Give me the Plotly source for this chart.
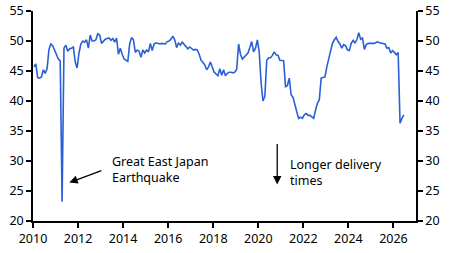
import plotly.graph_objects as go

# Monthly index values, Jan 2010 - Jun 2026
v2010 = [45.7, 46.2, 43.9, 43.8, 44.0, 45.2, 44.6, 45.4, 48.6, 49.5, 49.2, 48.5]
v2011 = [47.6, 47.0, 46.7, 23.2, 48.8, 49.3, 48.3, 48.7, 48.8, 49.0, 46.5, 45.5]
v2012 = [48.0, 49.5, 50.0, 49.8, 50.2, 48.8, 51.0, 50.0, 50.0, 50.2, 51.2, 51.0]
v2013 = [49.6, 50.0, 50.3, 50.4, 50.5, 50.1, 50.4, 49.8, 50.5, 47.8, 48.8, 47.8]
v2014 = [47.0, 46.8, 46.6, 49.5, 50.6, 50.2, 48.1, 48.5, 48.3, 47.3, 48.5, 48.0]
v2015 = [48.5, 48.2, 49.6, 48.4, 49.5, 49.7, 49.6, 49.5, 49.6, 49.6, 49.5, 49.9]
v2016 = [50.0, 50.3, 50.8, 50.2, 48.9, 49.7, 49.3, 49.8, 49.4, 49.0, 48.7, 49.0]
v2017 = [48.8, 48.5, 48.6, 48.5, 47.8, 46.8, 46.4, 46.0, 45.2, 45.7, 46.5, 45.6]
v2018 = [44.8, 44.5, 44.2, 45.4, 44.3, 45.2, 44.2, 44.6, 44.8, 44.8, 44.7, 44.8]
v2019 = [45.3, 49.5, 47.8, 47.0, 47.3, 47.6, 48.0, 48.9, 49.9, 48.2, 48.8, 50.2]
v2020 = [48.2, 43.0, 40.0, 40.8, 46.8, 47.2, 47.2, 47.6, 48.2, 47.7, 47.6, 46.8]
v2021 = [46.8, 46.7, 42.4, 42.6, 43.8, 41.0, 40.6, 39.6, 38.2, 37.1, 37.3, 37.1]
v2022 = [37.7, 37.9, 37.6, 37.6, 37.3, 37.1, 38.5, 39.6, 40.2, 43.8, 43.9, 44.0]
v2023 = [45.7, 47.1, 48.5, 49.6, 50.2, 50.6, 49.9, 49.5, 48.8, 49.4, 49.2, 48.5]
v2024 = [48.4, 49.6, 50.1, 49.7, 50.2, 51.4, 50.3, 50.5, 48.6, 49.4, 49.6, 49.6]
v2025 = [49.5, 49.6, 49.7, 49.9, 49.7, 49.6, 49.5, 49.5, 48.8, 48.9, 48.0, 48.4]
v2026 = [48.1, 47.7, 48.1, 36.3, 37.1, 37.7]

years = list(range(2010, 2027))
yearly = [v2010, v2011, v2012, v2013, v2014, v2015, v2016, v2017, v2018,
          v2019, v2020, v2021, v2022, v2023, v2024, v2025, v2026]

x_tick_vals = [2010, 2012, 2014, 2016, 2018, 2020, 2022, 2024, 2026]
y_tick_vals = [20, 25, 30, 35, 40, 45, 50, 55]

xs, ys = [], []
for yr, vals in zip(years, yearly):
    for m, v in enumerate(vals):
        xs.append(yr + (m + 0.5) / 12)
        ys.append(v)

FONT = "Noto Sans"
BLUE = "#2a5fd6"

fig = go.Figure()
fig.add_trace(go.Scatter(x=xs, y=ys, mode="lines",
                         line=dict(color=BLUE, width=1.6),
                         hoverinfo="skip", showlegend=False))
fig.add_trace(go.Scatter(x=xs, y=ys, mode="lines", yaxis="y2",
                         line=dict(color="rgba(0,0,0,0)", width=0),
                         hoverinfo="skip", showlegend=False))

axis_common = dict(showgrid=False, zeroline=False, showline=True,
                   linecolor="black", linewidth=1.5, ticks="outside",
                   ticklen=5, tickwidth=1.5, tickcolor="black",
                   automargin=False,
                   tickfont=dict(family=FONT, size=12.5, color="black"))

fig.update_layout(
    template="none",
    width=451, height=253,
    margin=dict(l=33, r=35, t=11, b=32),
    paper_bgcolor="white", plot_bgcolor="white",
    xaxis=dict(range=[2010, 2027], tickvals=x_tick_vals, **axis_common),
    yaxis=dict(range=[20, 55], tickvals=y_tick_vals, **axis_common),
    yaxis2=dict(range=[20, 55], tickvals=y_tick_vals, overlaying="y",
                side="right", **axis_common),
    annotations=[
        dict(x=2011.61, y=26.4, ax=2013.1, ay=28.5, xref="x", yref="y",
             axref="x", ayref="y", showarrow=True, arrowhead=2,
             arrowsize=1.3, arrowwidth=1.3, arrowcolor="black", text=""),
        dict(x=2013.42, y=28.6, xref="x", yref="y", showarrow=False,
             xanchor="left", yanchor="middle", align="left",
             text="Great East Japan<br>Earthquake",
             font=dict(family=FONT, size=12.5, color="black")),
        dict(x=2020.84, y=26.1, ax=2020.84, ay=33.1, xref="x", yref="y",
             axref="x", ayref="y", showarrow=True, arrowhead=2,
             arrowsize=1.3, arrowwidth=1.3, arrowcolor="black", text=""),
        dict(x=2021.33, y=28.1, xref="x", yref="y", showarrow=False,
             xanchor="left", yanchor="middle", align="left",
             text="Longer delivery<br>times",
             font=dict(family=FONT, size=12.5, color="black")),
    ],
)

fig.write_html("out.html")
